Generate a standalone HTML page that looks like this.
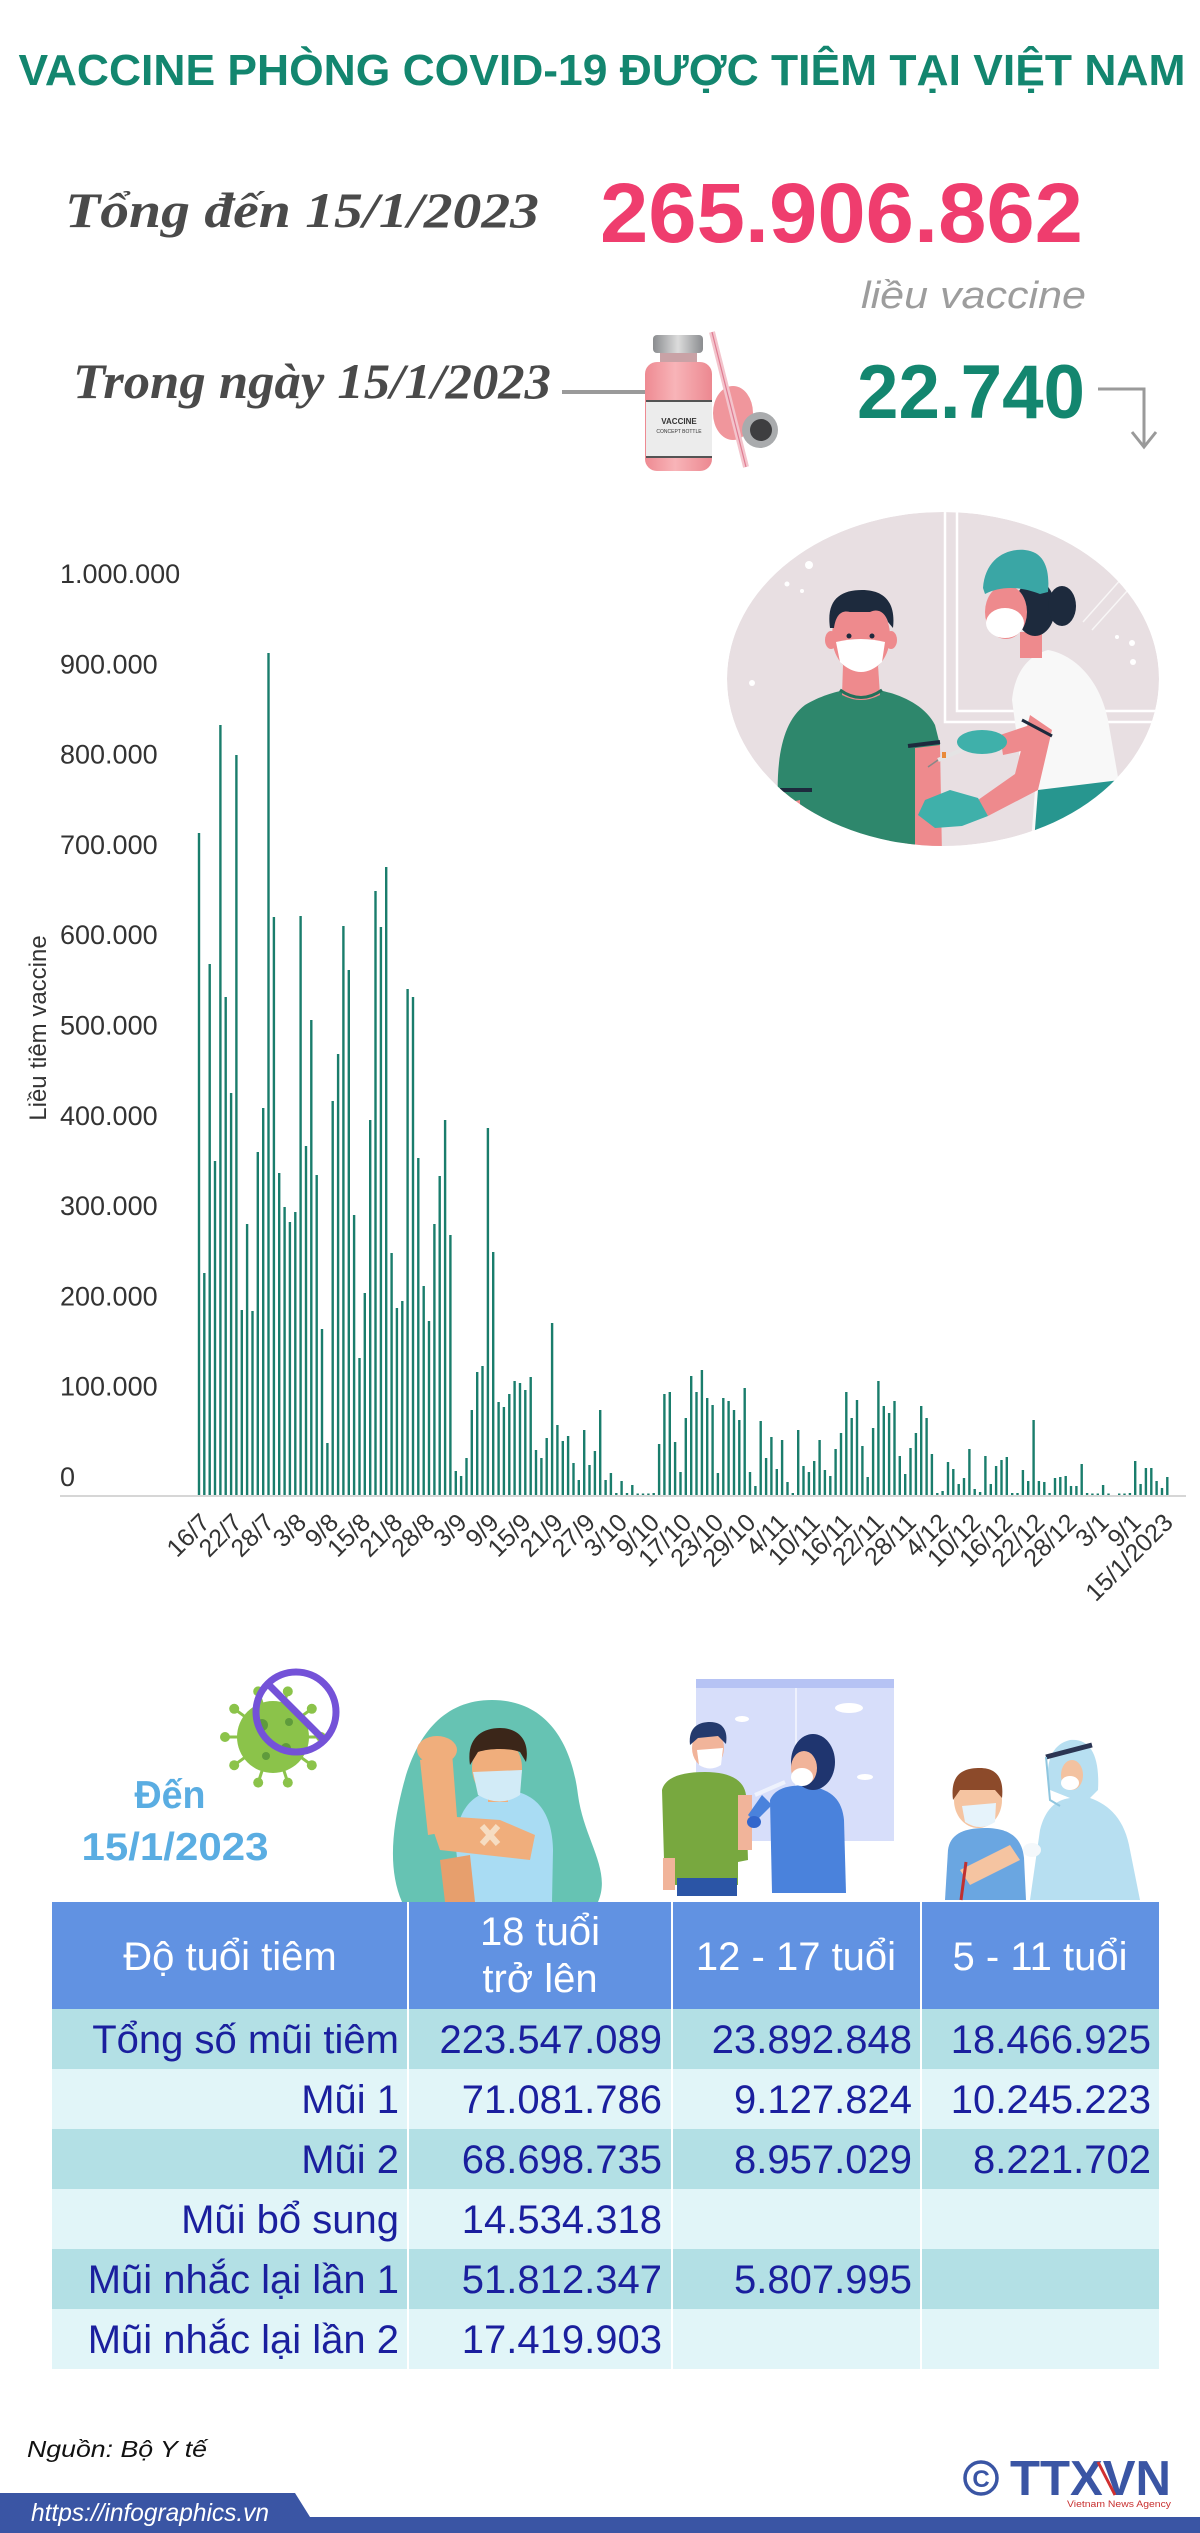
<!DOCTYPE html>
<html><head><meta charset="utf-8"><style>
html,body{margin:0;padding:0;background:#fff;}
body{width:1200px;height:2533px;overflow:hidden;}
svg{display:block;}
</style></head><body>
<svg width="1200" height="2533" viewBox="0 0 1200 2533" xmlns="http://www.w3.org/2000/svg" font-family="Liberation Sans, Arial, sans-serif">
<defs>
<linearGradient id="capg" x1="0" x2="1" y1="0" y2="0"><stop offset="0" stop-color="#8a8c8f"/><stop offset=".5" stop-color="#dcdcdc"/><stop offset="1" stop-color="#8a8c8f"/></linearGradient>
<linearGradient id="bodyg" x1="0" x2="1" y1="0" y2="0"><stop offset="0" stop-color="#ee8a92"/><stop offset=".45" stop-color="#f8b4b8"/><stop offset="1" stop-color="#ec8890"/></linearGradient>
<clipPath id="blob"><ellipse cx="943" cy="679" rx="216" ry="167"/></clipPath>
</defs>
<rect width="1200" height="2533" fill="#fff"/>

<!-- TITLE -->
<text x="602" y="85" text-anchor="middle" font-weight="bold" font-size="44" fill="#13866f" textLength="1167" lengthAdjust="spacingAndGlyphs">VACCINE PHÒNG COVID-19 ĐƯỢC TIÊM TẠI VIỆT NAM</text>

<!-- TOP STATS -->
<text x="65" y="227" font-family="Liberation Serif, serif" font-style="italic" font-weight="bold" font-size="50" fill="#4a4a4a" textLength="474" lengthAdjust="spacingAndGlyphs">Tổng đến 15/1/2023</text>
<text x="600" y="242" font-weight="bold" font-size="84" fill="#ef3d6e" textLength="483" lengthAdjust="spacingAndGlyphs">265.906.862</text>
<text x="1086" y="308" text-anchor="end" font-style="italic" font-size="38" fill="#9d9d9d" textLength="225" lengthAdjust="spacingAndGlyphs">liều vaccine</text>
<text x="73" y="398" font-family="Liberation Serif, serif" font-style="italic" font-weight="bold" font-size="50" fill="#4a4a4a" textLength="478" lengthAdjust="spacingAndGlyphs">Trong ngày 15/1/2023</text>
<rect x="562" y="390" width="90" height="4" fill="#9a9a9a"/>
<text x="857" y="418" font-weight="bold" font-size="76" fill="#13866f" textLength="228" lengthAdjust="spacingAndGlyphs">22.740</text>
<path d="M1098 389H1144V447M1132 432L1144 447L1156 432" stroke="#9a9a9a" stroke-width="3" fill="none"/>

<!-- VIAL -->
<ellipse cx="733" cy="413" rx="20" ry="27" fill="#f0969c"/>
<circle cx="760" cy="430" r="18" fill="#a9abad"/>
<circle cx="761" cy="430" r="11" fill="#3e3e40"/>
<line x1="712" y1="332" x2="746" y2="467" stroke="#f3c4cc" stroke-width="6"/>
<line x1="712" y1="332" x2="746" y2="467" stroke="#e07c92" stroke-width="1.2"/>
<rect x="660" y="350" width="37" height="18" fill="#c9a2a6"/>
<rect x="645" y="362" width="67" height="109" rx="12" fill="url(#bodyg)"/>
<rect x="653" y="335" width="50" height="18" rx="4" fill="url(#capg)"/>
<rect x="646" y="400" width="66" height="58" fill="#ececec"/>
<line x1="646" y1="401" x2="712" y2="401" stroke="#222" stroke-width="1.5"/>
<line x1="646" y1="457" x2="712" y2="457" stroke="#222" stroke-width="1.5"/>
<text x="679" y="424" text-anchor="middle" font-weight="bold" font-size="8" fill="#333">VACCINE</text>
<text x="679" y="433" text-anchor="middle" font-size="5" fill="#333">CONCEPT BOTTLE</text>

<!-- TOP RIGHT ILLUSTRATION -->
<g clip-path="url(#blob)">
<ellipse cx="943" cy="679" rx="216" ry="167" fill="#e8dfe2"/>
<path d="M945 505V722H1165M957 505V711H1165" stroke="#fff" stroke-width="2.5" fill="none"/>
<path d="M1083 622L1122 578M1092 630L1128 590" stroke="#fff" stroke-width="1.5" opacity=".7"/>
<circle cx="809" cy="565" r="4" fill="#fff"/><circle cx="787" cy="584" r="2.5" fill="#fff"/><circle cx="802" cy="591" r="2" fill="#fff"/><circle cx="752" cy="683" r="3" fill="#fff"/><circle cx="1132" cy="643" r="3" fill="#fff"/><circle cx="1133" cy="662" r="3" fill="#fff"/><circle cx="1117" cy="637" r="2" fill="#fff"/>
<!-- man -->
<rect x="782" y="785" width="30" height="70" fill="#ee8a8d"/>
<path d="M905 745L940 745L942 855L905 855Z" fill="#ee8a8d"/>
<path d="M778 805C776 760 782 722 805 705C820 696 835 692 845 690L878 690C900 694 925 705 935 725L940 745L915 748L915 855L800 855L800 800Z" fill="#2e876c"/>
<path d="M780 790L812 790" stroke="#1d2a3d" stroke-width="4"/>
<path d="M908 746L940 742" stroke="#1d2a3d" stroke-width="4"/>
<path d="M843 665L878 665L880 695Q861 705 842 695Z" fill="#ee8a8d"/>
<path d="M840 690Q861 705 882 690" stroke="#22705a" stroke-width="3" fill="none"/>
<ellipse cx="831" cy="640" rx="6" ry="9" fill="#ee8a8d"/><ellipse cx="891" cy="640" rx="6" ry="9" fill="#ee8a8d"/>
<ellipse cx="861" cy="636" rx="29" ry="37" fill="#ee8a8d"/>
<path d="M830 628C826 600 840 590 862 590C884 590 896 602 893 628L888 622C885 612 878 608 870 612L850 612C842 610 836 614 834 628Z" fill="#1d2a3d"/>
<circle cx="849" cy="636" r="2.5" fill="#1d2a3d"/><circle cx="872" cy="636" r="2.5" fill="#1d2a3d"/>
<path d="M836 642Q861 636 885 642L882 662Q861 682 840 662Z" fill="#fff"/>
<!-- nurse -->
<path d="M1012 700C1015 670 1030 655 1048 650C1075 655 1100 680 1108 720L1122 800L1120 855L1030 855L1035 790L1020 760Z" fill="#f8f8f8"/>
<path d="M1038 790L1120 780L1122 855L1033 855Z" fill="#27968f"/>
<rect x="1020" y="632" width="22" height="26" fill="#ee8a8d"/>
<path d="M1000 735L1030 725L1035 748L1003 755Z" fill="#ee8a8d"/>
<path d="M1030 715L1052 730L1038 790L988 816L978 800L1015 774Z" fill="#ee8a8d"/>
<path d="M1022 720L1052 736" stroke="#1d2a3d" stroke-width="3"/>
<line x1="990" y1="738" x2="938" y2="760" stroke="#e4e4e4" stroke-width="4"/>
<line x1="938" y1="760" x2="928" y2="767" stroke="#888" stroke-width="1.5"/>
<rect x="942" y="752" width="4" height="6" fill="#e98a3a"/>
<ellipse cx="982" cy="742" rx="25" ry="12" fill="#3fb0aa"/>
<path d="M988 816L978 798L950 790L925 800L918 815L935 828L962 826Z" fill="#3fb0aa"/>
<ellipse cx="1035" cy="608" rx="20" ry="28" fill="#1d2a3d"/>
<ellipse cx="1062" cy="606" rx="14" ry="20" fill="#1d2a3d"/>
<ellipse cx="1006" cy="612" rx="21" ry="27" fill="#ee8a8d"/>
<path d="M983 588C985 560 1005 548 1025 550C1045 552 1050 570 1048 592L1040 594C1020 586 1000 586 985 594Z" fill="#3aa6a5"/>
<ellipse cx="1005" cy="623" rx="19" ry="15" fill="#fff"/>
</g>

<!-- CHART -->
<text transform="translate(46 1028) rotate(-90)" text-anchor="middle" font-size="24" fill="#333">Liều tiêm vaccine</text>
<g font-size="27" fill="#333">
<text x="60" y="583">1.000.000</text>
<text x="60" y="673.3">900.000</text>
<text x="60" y="763.6">800.000</text>
<text x="60" y="853.9">700.000</text>
<text x="60" y="944.2">600.000</text>
<text x="60" y="1034.5">500.000</text>
<text x="60" y="1124.8">400.000</text>
<text x="60" y="1215.1">300.000</text>
<text x="60" y="1305.4">200.000</text>
<text x="60" y="1395.7">100.000</text>
<text x="60" y="1486">0</text>
</g>
<line x1="60" y1="1496" x2="1186" y2="1496" stroke="#d6d6d6" stroke-width="2"/>
<g fill="#1a7d6c">
<rect x="197.8" y="833" width="2.4" height="662"/>
<rect x="203.1" y="1273" width="2.4" height="222"/>
<rect x="208.5" y="964" width="2.4" height="531"/>
<rect x="213.8" y="1161" width="2.4" height="334"/>
<rect x="219.2" y="725" width="2.4" height="770"/>
<rect x="224.5" y="997" width="2.4" height="498"/>
<rect x="229.9" y="1093" width="2.4" height="402"/>
<rect x="235.2" y="755" width="2.4" height="740"/>
<rect x="240.6" y="1310" width="2.4" height="185"/>
<rect x="245.9" y="1224" width="2.4" height="271"/>
<rect x="251.3" y="1311" width="2.4" height="184"/>
<rect x="256.6" y="1152" width="2.4" height="343"/>
<rect x="262.0" y="1108" width="2.4" height="387"/>
<rect x="267.3" y="653" width="2.4" height="842"/>
<rect x="272.7" y="917" width="2.4" height="578"/>
<rect x="278.0" y="1173" width="2.4" height="322"/>
<rect x="283.4" y="1207" width="2.4" height="288"/>
<rect x="288.7" y="1222" width="2.4" height="273"/>
<rect x="294.1" y="1212" width="2.4" height="283"/>
<rect x="299.4" y="916" width="2.4" height="579"/>
<rect x="304.8" y="1146" width="2.4" height="349"/>
<rect x="310.1" y="1020" width="2.4" height="475"/>
<rect x="315.5" y="1175" width="2.4" height="320"/>
<rect x="320.8" y="1329" width="2.4" height="166"/>
<rect x="326.2" y="1443" width="2.4" height="52"/>
<rect x="331.5" y="1101" width="2.4" height="394"/>
<rect x="336.9" y="1054" width="2.4" height="441"/>
<rect x="342.2" y="926" width="2.4" height="569"/>
<rect x="347.6" y="970" width="2.4" height="525"/>
<rect x="352.9" y="1215" width="2.4" height="280"/>
<rect x="358.3" y="1358" width="2.4" height="137"/>
<rect x="363.6" y="1293" width="2.4" height="202"/>
<rect x="369.0" y="1120" width="2.4" height="375"/>
<rect x="374.3" y="891" width="2.4" height="604"/>
<rect x="379.7" y="927" width="2.4" height="568"/>
<rect x="385.0" y="867" width="2.4" height="628"/>
<rect x="390.4" y="1253" width="2.4" height="242"/>
<rect x="395.7" y="1308" width="2.4" height="187"/>
<rect x="401.1" y="1301" width="2.4" height="194"/>
<rect x="406.4" y="989" width="2.4" height="506"/>
<rect x="411.8" y="997" width="2.4" height="498"/>
<rect x="417.1" y="1158" width="2.4" height="337"/>
<rect x="422.5" y="1286" width="2.4" height="209"/>
<rect x="427.8" y="1321" width="2.4" height="174"/>
<rect x="433.2" y="1224" width="2.4" height="271"/>
<rect x="438.5" y="1176" width="2.4" height="319"/>
<rect x="443.9" y="1120" width="2.4" height="375"/>
<rect x="449.2" y="1235" width="2.4" height="260"/>
<rect x="454.6" y="1471" width="2.4" height="24"/>
<rect x="459.9" y="1476" width="2.4" height="19"/>
<rect x="465.3" y="1458" width="2.4" height="37"/>
<rect x="470.6" y="1410" width="2.4" height="85"/>
<rect x="476.0" y="1372" width="2.4" height="123"/>
<rect x="481.3" y="1366" width="2.4" height="129"/>
<rect x="486.7" y="1128" width="2.4" height="367"/>
<rect x="492.0" y="1252" width="2.4" height="243"/>
<rect x="497.4" y="1402" width="2.4" height="93"/>
<rect x="502.7" y="1407" width="2.4" height="88"/>
<rect x="508.1" y="1394" width="2.4" height="101"/>
<rect x="513.4" y="1381" width="2.4" height="114"/>
<rect x="518.8" y="1383" width="2.4" height="112"/>
<rect x="524.1" y="1390" width="2.4" height="105"/>
<rect x="529.5" y="1377" width="2.4" height="118"/>
<rect x="534.8" y="1450" width="2.4" height="45"/>
<rect x="540.2" y="1458" width="2.4" height="37"/>
<rect x="545.5" y="1438" width="2.4" height="57"/>
<rect x="550.9" y="1323" width="2.4" height="172"/>
<rect x="556.2" y="1425" width="2.4" height="70"/>
<rect x="561.6" y="1441" width="2.4" height="54"/>
<rect x="566.9" y="1436" width="2.4" height="59"/>
<rect x="572.3" y="1463" width="2.4" height="32"/>
<rect x="577.6" y="1480" width="2.4" height="15"/>
<rect x="583.0" y="1430" width="2.4" height="65"/>
<rect x="588.3" y="1465" width="2.4" height="30"/>
<rect x="593.7" y="1451" width="2.4" height="44"/>
<rect x="599.0" y="1410" width="2.4" height="85"/>
<rect x="604.4" y="1480" width="2.4" height="15"/>
<rect x="609.7" y="1473" width="2.4" height="22"/>
<rect x="615.1" y="1493" width="2.4" height="2"/>
<rect x="620.4" y="1481" width="2.4" height="14"/>
<rect x="625.8" y="1493" width="2.4" height="2"/>
<rect x="631.1" y="1485" width="2.4" height="10"/>
<rect x="636.5" y="1493.5" width="2.4" height="1.5"/>
<rect x="641.8" y="1493.5" width="2.4" height="1.5"/>
<rect x="647.2" y="1493.5" width="2.4" height="1.5"/>
<rect x="652.5" y="1493" width="2.4" height="2"/>
<rect x="657.9" y="1444" width="2.4" height="51"/>
<rect x="663.2" y="1394" width="2.4" height="101"/>
<rect x="668.6" y="1392" width="2.4" height="103"/>
<rect x="673.9" y="1442" width="2.4" height="53"/>
<rect x="679.3" y="1472" width="2.4" height="23"/>
<rect x="684.6" y="1418" width="2.4" height="77"/>
<rect x="690.0" y="1376" width="2.4" height="119"/>
<rect x="695.3" y="1392" width="2.4" height="103"/>
<rect x="700.7" y="1370" width="2.4" height="125"/>
<rect x="706.0" y="1398" width="2.4" height="97"/>
<rect x="711.4" y="1405" width="2.4" height="90"/>
<rect x="716.7" y="1473" width="2.4" height="22"/>
<rect x="722.1" y="1398" width="2.4" height="97"/>
<rect x="727.4" y="1401" width="2.4" height="94"/>
<rect x="732.8" y="1410" width="2.4" height="85"/>
<rect x="738.1" y="1420" width="2.4" height="75"/>
<rect x="743.5" y="1388" width="2.4" height="107"/>
<rect x="748.8" y="1472" width="2.4" height="23"/>
<rect x="754.2" y="1486" width="2.4" height="9"/>
<rect x="759.5" y="1421" width="2.4" height="74"/>
<rect x="764.9" y="1458" width="2.4" height="37"/>
<rect x="770.2" y="1437" width="2.4" height="58"/>
<rect x="775.6" y="1469" width="2.4" height="26"/>
<rect x="780.9" y="1440" width="2.4" height="55"/>
<rect x="786.3" y="1482" width="2.4" height="13"/>
<rect x="791.6" y="1493" width="2.4" height="2"/>
<rect x="797.0" y="1430" width="2.4" height="65"/>
<rect x="802.3" y="1466" width="2.4" height="29"/>
<rect x="807.7" y="1472" width="2.4" height="23"/>
<rect x="813.0" y="1461" width="2.4" height="34"/>
<rect x="818.4" y="1440" width="2.4" height="55"/>
<rect x="823.7" y="1470" width="2.4" height="25"/>
<rect x="829.1" y="1476" width="2.4" height="19"/>
<rect x="834.4" y="1449" width="2.4" height="46"/>
<rect x="839.8" y="1433" width="2.4" height="62"/>
<rect x="845.1" y="1392" width="2.4" height="103"/>
<rect x="850.5" y="1418" width="2.4" height="77"/>
<rect x="855.8" y="1400" width="2.4" height="95"/>
<rect x="861.2" y="1446" width="2.4" height="49"/>
<rect x="866.5" y="1477" width="2.4" height="18"/>
<rect x="871.9" y="1428" width="2.4" height="67"/>
<rect x="877.2" y="1381" width="2.4" height="114"/>
<rect x="882.6" y="1406" width="2.4" height="89"/>
<rect x="887.9" y="1413" width="2.4" height="82"/>
<rect x="893.3" y="1401" width="2.4" height="94"/>
<rect x="898.6" y="1456" width="2.4" height="39"/>
<rect x="904.0" y="1474" width="2.4" height="21"/>
<rect x="909.3" y="1448" width="2.4" height="47"/>
<rect x="914.7" y="1433" width="2.4" height="62"/>
<rect x="920.0" y="1406" width="2.4" height="89"/>
<rect x="925.4" y="1418" width="2.4" height="77"/>
<rect x="930.7" y="1454" width="2.4" height="41"/>
<rect x="936.1" y="1493" width="2.4" height="2"/>
<rect x="941.4" y="1491" width="2.4" height="4"/>
<rect x="946.8" y="1462" width="2.4" height="33"/>
<rect x="952.1" y="1469" width="2.4" height="26"/>
<rect x="957.5" y="1484" width="2.4" height="11"/>
<rect x="962.8" y="1478" width="2.4" height="17"/>
<rect x="968.2" y="1449" width="2.4" height="46"/>
<rect x="973.5" y="1489" width="2.4" height="6"/>
<rect x="978.9" y="1492" width="2.4" height="3"/>
<rect x="984.2" y="1456" width="2.4" height="39"/>
<rect x="989.6" y="1484" width="2.4" height="11"/>
<rect x="994.9" y="1466" width="2.4" height="29"/>
<rect x="1000.3" y="1460" width="2.4" height="35"/>
<rect x="1005.6" y="1457" width="2.4" height="38"/>
<rect x="1011.0" y="1493" width="2.4" height="2"/>
<rect x="1016.3" y="1493" width="2.4" height="2"/>
<rect x="1021.7" y="1470" width="2.4" height="25"/>
<rect x="1027.0" y="1481" width="2.4" height="14"/>
<rect x="1032.4" y="1420" width="2.4" height="75"/>
<rect x="1037.7" y="1481" width="2.4" height="14"/>
<rect x="1043.1" y="1482" width="2.4" height="13"/>
<rect x="1048.4" y="1493" width="2.4" height="2"/>
<rect x="1053.8" y="1478" width="2.4" height="17"/>
<rect x="1059.1" y="1477" width="2.4" height="18"/>
<rect x="1064.5" y="1476" width="2.4" height="19"/>
<rect x="1069.8" y="1486" width="2.4" height="9"/>
<rect x="1075.2" y="1486" width="2.4" height="9"/>
<rect x="1080.5" y="1464" width="2.4" height="31"/>
<rect x="1085.9" y="1493" width="2.4" height="2"/>
<rect x="1091.2" y="1493.5" width="2.4" height="1.5"/>
<rect x="1096.6" y="1493.5" width="2.4" height="1.5"/>
<rect x="1101.9" y="1485" width="2.4" height="10"/>
<rect x="1107.3" y="1493.5" width="2.4" height="1.5"/>
<rect x="1118.0" y="1493.5" width="2.4" height="1.5"/>
<rect x="1123.3" y="1493.5" width="2.4" height="1.5"/>
<rect x="1128.7" y="1493" width="2.4" height="2"/>
<rect x="1134.0" y="1461" width="2.4" height="34"/>
<rect x="1139.4" y="1484" width="2.4" height="11"/>
<rect x="1144.7" y="1468" width="2.4" height="27"/>
<rect x="1150.1" y="1468" width="2.4" height="27"/>
<rect x="1155.4" y="1481" width="2.4" height="14"/>
<rect x="1160.8" y="1488" width="2.4" height="7"/>
<rect x="1166.1" y="1477" width="2.4" height="18"/>
</g>
<g font-size="25" fill="#333" text-anchor="end">
<text transform="translate(211.4 1524) rotate(-45)">16/7</text>
<text transform="translate(243.5 1524) rotate(-45)">22/7</text>
<text transform="translate(275.6 1524) rotate(-45)">28/7</text>
<text transform="translate(307.7 1524) rotate(-45)">3/8</text>
<text transform="translate(339.8 1524) rotate(-45)">9/8</text>
<text transform="translate(371.9 1524) rotate(-45)">15/8</text>
<text transform="translate(404.0 1524) rotate(-45)">21/8</text>
<text transform="translate(436.1 1524) rotate(-45)">28/8</text>
<text transform="translate(468.2 1524) rotate(-45)">3/9</text>
<text transform="translate(500.3 1524) rotate(-45)">9/9</text>
<text transform="translate(532.4 1524) rotate(-45)">15/9</text>
<text transform="translate(564.5 1524) rotate(-45)">21/9</text>
<text transform="translate(596.6 1524) rotate(-45)">27/9</text>
<text transform="translate(628.7 1524) rotate(-45)">3/10</text>
<text transform="translate(660.8 1524) rotate(-45)">9/10</text>
<text transform="translate(692.9 1524) rotate(-45)">17/10</text>
<text transform="translate(725.0 1524) rotate(-45)">23/10</text>
<text transform="translate(757.1 1524) rotate(-45)">29/10</text>
<text transform="translate(789.2 1524) rotate(-45)">4/11</text>
<text transform="translate(821.3 1524) rotate(-45)">10/11</text>
<text transform="translate(853.4 1524) rotate(-45)">16/11</text>
<text transform="translate(885.5 1524) rotate(-45)">22/11</text>
<text transform="translate(917.6 1524) rotate(-45)">28/11</text>
<text transform="translate(949.7 1524) rotate(-45)">4/12</text>
<text transform="translate(981.8 1524) rotate(-45)">10/12</text>
<text transform="translate(1013.9 1524) rotate(-45)">16/12</text>
<text transform="translate(1046.0 1524) rotate(-45)">22/12</text>
<text transform="translate(1078.1 1524) rotate(-45)">28/12</text>
<text transform="translate(1110.2 1524) rotate(-45)">3/1</text>
<text transform="translate(1142.3 1524) rotate(-45)">9/1</text>
<text transform="translate(1174.4 1524) rotate(-45)">15/1/2023</text>
</g>

<!-- MIDDLE ICONS -->
<g stroke="#8bc34a" stroke-width="3">
<line x1="273" y1="1737" x2="321" y2="1737"/><line x1="273" y1="1737" x2="311.8" y2="1765.2"/><line x1="273" y1="1737" x2="287.8" y2="1782.6"/><line x1="273" y1="1737" x2="258.2" y2="1782.6"/><line x1="273" y1="1737" x2="234.2" y2="1765.2"/><line x1="273" y1="1737" x2="225" y2="1737"/><line x1="273" y1="1737" x2="234.2" y2="1708.8"/><line x1="273" y1="1737" x2="258.2" y2="1691.4"/><line x1="273" y1="1737" x2="287.8" y2="1691.4"/><line x1="273" y1="1737" x2="311.8" y2="1708.8"/>
</g>
<g fill="#8bc34a">
<circle cx="321" cy="1737" r="5"/><circle cx="311.8" cy="1765.2" r="5"/><circle cx="287.8" cy="1782.6" r="5"/><circle cx="258.2" cy="1782.6" r="5"/><circle cx="234.2" cy="1765.2" r="5"/><circle cx="225" cy="1737" r="5"/><circle cx="234.2" cy="1708.8" r="5"/><circle cx="258.2" cy="1691.4" r="5"/><circle cx="287.8" cy="1691.4" r="5"/><circle cx="311.8" cy="1708.8" r="5"/>
<circle cx="273" cy="1737" r="36"/>
</g>
<g fill="#5f9b3c"><circle cx="262" cy="1725" r="6"/><circle cx="286" cy="1748" r="5"/><circle cx="266" cy="1756" r="4"/><circle cx="289" cy="1722" r="4"/></g>
<circle cx="296" cy="1712" r="40" fill="none" stroke="#7452d8" stroke-width="7"/>
<line x1="268" y1="1684" x2="324" y2="1740" stroke="#7452d8" stroke-width="7"/>
<text x="170" y="1808" text-anchor="middle" font-weight="bold" font-size="39" fill="#5aade2" textLength="71" lengthAdjust="spacingAndGlyphs">Đến</text>
<text x="175" y="1860" text-anchor="middle" font-weight="bold" font-size="39" fill="#5aade2" textLength="187" lengthAdjust="spacingAndGlyphs">15/1/2023</text>

<!-- flexing man -->
<path d="M492 1700C548 1700 572 1745 578 1795C584 1840 612 1870 598 1902L402 1902C388 1870 392 1830 402 1790C414 1740 440 1700 492 1700Z" fill="#66c3b3"/>
<path d="M455 1840C460 1800 480 1790 505 1790C535 1792 552 1810 553 1850L552 1902L462 1902Z" fill="#a9dcf3"/>
<rect x="488" y="1788" width="20" height="14" fill="#f0ae7c"/>
<ellipse cx="497" cy="1768" rx="25" ry="30" fill="#f0ae7c"/>
<path d="M470 1765C466 1738 482 1728 500 1728C520 1728 530 1742 526 1762L520 1752C510 1748 490 1748 478 1752Z" fill="#3b2619"/>
<path d="M473 1772L522 1770L520 1795Q500 1808 478 1795Z" fill="#d2ebf7"/>
<path d="M420 1760L452 1752L458 1830L428 1835Z" fill="#f0ae7c"/>
<ellipse cx="437" cy="1750" rx="20" ry="14" fill="#f0ae7c"/>
<path d="M428 1815L500 1820L535 1835L530 1860L440 1850Z" fill="#f0ae7c"/>
<path d="M482 1826L498 1844M498 1826L482 1844" stroke="#f6ddc2" stroke-width="6"/>
<path d="M440 1860L470 1855L475 1902L445 1902Z" fill="#e79f6d"/>

<!-- window scene -->
<rect x="696" y="1679" width="198" height="162" fill="#d7defa"/>
<rect x="696" y="1679" width="198" height="9" fill="#b6c3f4"/>
<rect x="795" y="1688" width="2" height="153" fill="#eef1fd"/>
<ellipse cx="849" cy="1708" rx="14" ry="5" fill="#fff"/><ellipse cx="742" cy="1719" rx="7" ry="3" fill="#fff"/><ellipse cx="865" cy="1777" rx="8" ry="3" fill="#fff"/>
<path d="M662 1790C665 1778 680 1772 705 1772C730 1772 744 1780 746 1795L748 1860L738 1862L738 1885L675 1885L675 1862L664 1860Z" fill="#78a83f"/>
<rect x="663" y="1858" width="12" height="32" fill="#f1b49a"/>
<rect x="738" y="1795" width="14" height="55" fill="#f1b49a"/>
<rect x="677" y="1878" width="60" height="18" fill="#2b55a6"/>
<ellipse cx="708" cy="1748" rx="16" ry="20" fill="#f1b49a"/>
<path d="M690 1745C688 1726 700 1722 710 1722C724 1722 728 1732 726 1744L718 1736L698 1738Z" fill="#243a6d"/>
<path d="M697 1750L723 1748L721 1765Q710 1772 699 1765Z" fill="#fff"/>
<path d="M770 1800C775 1788 790 1784 810 1786C832 1790 842 1800 844 1820L846 1893L772 1893Z" fill="#4a82dc"/>
<path d="M772 1805L755 1822L748 1815L762 1795Z" fill="#4a82dc"/>
<ellipse cx="754" cy="1822" rx="7" ry="6" fill="#3366cc"/>
<line x1="755" y1="1795" x2="785" y2="1782" stroke="#eef2fd" stroke-width="4"/>
<ellipse cx="813" cy="1762" rx="22" ry="28" fill="#1f356f"/>
<ellipse cx="804" cy="1768" rx="13" ry="17" fill="#f1b49a"/>
<ellipse cx="802" cy="1777" rx="11" ry="9" fill="#fff"/>

<!-- kid scene -->
<path d="M1030 1900L1040 1830C1045 1810 1055 1800 1070 1798L1050 1790C1045 1770 1048 1745 1070 1740C1090 1738 1100 1755 1098 1790L1090 1798C1110 1805 1125 1820 1130 1850L1140 1900Z" fill="#b7dff1"/>
<ellipse cx="1072" cy="1775" rx="11" ry="15" fill="#f3c2a0"/>
<ellipse cx="1070" cy="1783" rx="9" ry="7" fill="#fff"/>
<line x1="1046" y1="1757" x2="1092" y2="1745" stroke="#2b3553" stroke-width="5"/>
<path d="M1046 1757L1050 1800L1060 1806" stroke="#8fc6df" stroke-width="2" fill="none"/>
<ellipse cx="1032" cy="1850" rx="9" ry="7" fill="#f4f8fb"/>
<path d="M945 1900L948 1850C950 1835 962 1828 985 1828C1010 1828 1022 1838 1024 1858L1026 1900Z" fill="#6aa6e1"/>
<ellipse cx="978" cy="1800" rx="24" ry="28" fill="#f5c4a1"/>
<path d="M953 1800C950 1775 962 1768 980 1768C998 1768 1004 1780 1002 1798L995 1790L960 1790Z" fill="#8c4a2a"/>
<path d="M962 1806L996 1803L995 1822Q980 1832 965 1822Z" fill="#e6f3fb"/>
<path d="M960 1870L1010 1845L1020 1860L970 1885Z" fill="#f5c4a1"/>
<line x1="966" y1="1862" x2="961" y2="1900" stroke="#c03030" stroke-width="3"/>

<!-- TABLE -->
<rect x="52" y="1902" width="1107" height="107" fill="#6192e2"/>
<rect x="52" y="2009" width="1107" height="60" fill="#b3e0e5"/>
<rect x="52" y="2069" width="1107" height="60" fill="#e1f5f8"/>
<rect x="52" y="2129" width="1107" height="60" fill="#b3e0e5"/>
<rect x="52" y="2189" width="1107" height="60" fill="#e1f5f8"/>
<rect x="52" y="2249" width="1107" height="60" fill="#b3e0e5"/>
<rect x="52" y="2309" width="1107" height="60" fill="#e1f5f8"/>
<g fill="#fff"><rect x="407" y="1902" width="2" height="467"/><rect x="671" y="1902" width="2" height="467"/><rect x="920" y="1902" width="2" height="467"/></g>
<g font-size="40" fill="#fff" text-anchor="middle">
<text x="230" y="1970">Độ tuổi tiêm</text>
<text x="540" y="1945">18 tuổi</text>
<text x="540" y="1992">trở lên</text>
<text x="796" y="1970">12 - 17 tuổi</text>
<text x="1040" y="1970">5 - 11 tuổi</text>
</g>
<g font-size="40" fill="#1a1f9e" text-anchor="end">
<text x="399" y="2053">Tổng số mũi tiêm</text><text x="662" y="2053">223.547.089</text><text x="912" y="2053">23.892.848</text><text x="1151" y="2053">18.466.925</text>
<text x="399" y="2113">Mũi 1</text><text x="662" y="2113">71.081.786</text><text x="912" y="2113">9.127.824</text><text x="1151" y="2113">10.245.223</text>
<text x="399" y="2173">Mũi 2</text><text x="662" y="2173">68.698.735</text><text x="912" y="2173">8.957.029</text><text x="1151" y="2173">8.221.702</text>
<text x="399" y="2233">Mũi bổ sung</text><text x="662" y="2233">14.534.318</text>
<text x="399" y="2293">Mũi nhắc lại lần 1</text><text x="662" y="2293">51.812.347</text><text x="912" y="2293">5.807.995</text>
<text x="399" y="2353">Mũi nhắc lại lần 2</text><text x="662" y="2353">17.419.903</text>
</g>

<!-- FOOTER -->
<text x="27" y="2457" font-style="italic" font-size="23" fill="#111" textLength="180" lengthAdjust="spacingAndGlyphs">Nguồn: Bộ Y tế</text>
<path d="M0 2493H295L310 2517H1200V2533H0Z" fill="#3a55a4"/>
<text x="31" y="2521" font-style="italic" font-size="25" fill="#fff" textLength="238" lengthAdjust="spacingAndGlyphs">https://infographics.vn</text>
<circle cx="981" cy="2478" r="16" fill="none" stroke="#3a55a4" stroke-width="3.5"/>
<text x="981" y="2487" text-anchor="middle" font-weight="bold" font-size="24" fill="#3a55a4">C</text>
<text x="1010" y="2495" font-weight="bold" font-size="49" fill="#3a55a4" textLength="161" lengthAdjust="spacingAndGlyphs">TTXVN</text>
<path d="M1098 2462L1115 2495" stroke="#d03030" stroke-width="3"/>
<text x="1067" y="2507" font-size="9" fill="#c83030" textLength="104" lengthAdjust="spacingAndGlyphs">Vietnam News Agency</text>
</svg>
</body></html>
